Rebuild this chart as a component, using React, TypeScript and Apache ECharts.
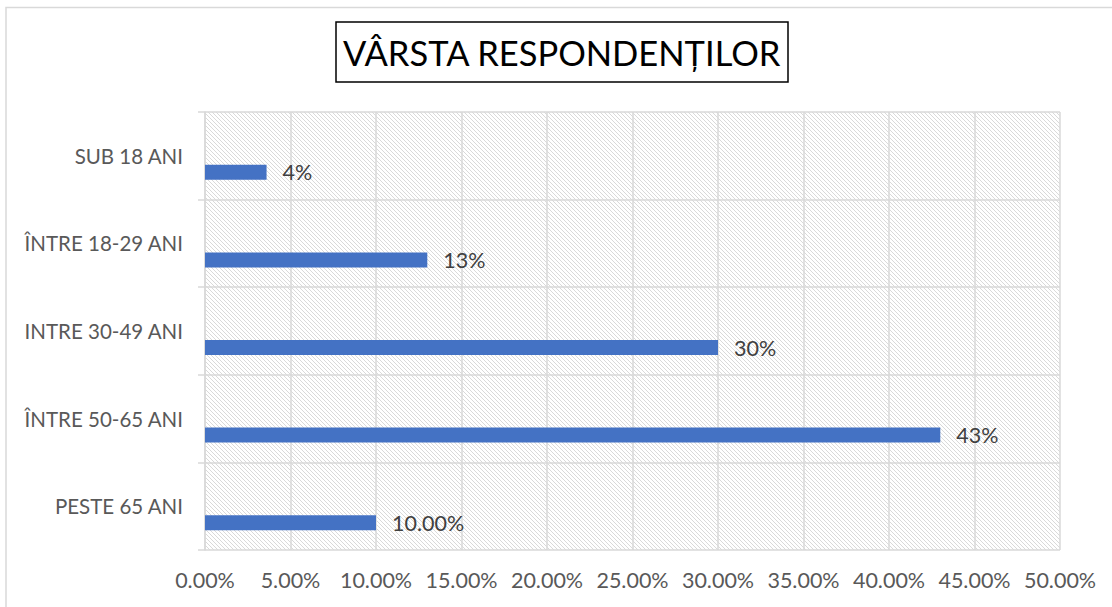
import React, { useEffect, useRef } from "react";
import * as echarts from "echarts";

const categories = ["SUB 18 ANI", "ÎNTRE 18-29 ANI", "INTRE 30-49 ANI", "ÎNTRE 50-65 ANI", "PESTE 65 ANI"];
const values = [3.6, 13, 30, 43, 10];
const valueLabels = ["4%", "13%", "30%", "43%", "10.00%"];
const axisMin = 0;
const axisMax = 50;
const axisInterval = 5;
const titleText = "VÂRSTA RESPONDENȚILOR";

const GRID = { left: 205, top: 112, width: 855, height: 438 };

function makeHatch(): HTMLCanvasElement {
  const c = document.createElement("canvas");
  c.width = 8;
  c.height = 8;
  const ctx = c.getContext("2d")!;
  ctx.fillStyle = "#ffffff";
  ctx.fillRect(0, 0, 8, 8);
  ctx.fillStyle = "#d9d9d9";
  for (let i = 0; i < 8; i++) {
    ctx.fillRect(i, i, 1, 1);
    ctx.fillRect(i, (i + 4) % 8, 1, 1);
  }
  return c;
}

export default function App() {
  const ref = useRef<HTMLDivElement>(null);
  useEffect(() => {
    if (!ref.current) return;
    const chart = echarts.init(ref.current, undefined, { renderer: "svg" });
    const hatch = makeHatch();
    const font = "Lato";
    const empty = categories.map(() => "-");
    chart.setOption({
      animation: false,
      backgroundColor: "#ffffff",
      title: {
        text: titleText,
        left: 336,
        top: 22,
        padding: [6, 7, 6, 7],
        borderColor: "#000000",
        borderWidth: 1.5,
        textStyle: { fontFamily: font, fontSize: 34.5, fontWeight: "normal", color: "#000000", lineHeight: 48 },
      },
      graphic: [
        {
          type: "rect",
          z: -10,
          silent: true,
          shape: { x: 6, y: 7.5, width: 1200, height: 700 },
          style: { fill: "none", stroke: "#d9d9d9", lineWidth: 1.5 },
        },
        {
          type: "rect",
          z: -5,
          silent: true,
          shape: { x: GRID.left, y: GRID.top, width: GRID.width, height: GRID.height },
          style: { fill: { image: hatch, repeat: "repeat" } as any },
        },
      ],
      grid: { left: GRID.left, top: GRID.top, width: GRID.width, height: GRID.height, containLabel: false },
      xAxis: {
        type: "value",
        min: axisMin,
        max: axisMax,
        interval: axisInterval,
        axisLine: { show: false },
        axisTick: { show: false },
        splitLine: { show: true, lineStyle: { color: "#d9d9d9", width: 1.5 } },
        axisLabel: {
          formatter: (v: number) => v.toFixed(2) + "%",
          fontFamily: font,
          fontSize: 21.5,
          color: "#595959",
          margin: 19,
        },
      },
      yAxis: {
        type: "category",
        inverse: true,
        data: categories,
        axisLine: { show: true, lineStyle: { color: "#d9d9d9", width: 1.5 } },
        axisTick: { show: true, length: 7, lineStyle: { color: "#d9d9d9", width: 1.5 } },
        splitLine: { show: true, lineStyle: { color: "#d9d9d9", width: 1.5 } },
        axisLabel: { fontFamily: font, fontSize: 20.5, color: "#595959", margin: 22 },
      },
      series: [
        { type: "bar", data: empty, barWidth: 15, barGap: "10%", silent: true },
        { type: "bar", data: empty, barWidth: 15, barGap: "10%", silent: true },
        {
          type: "bar",
          data: values,
          barWidth: 15,
          barGap: "10%",
          itemStyle: { color: "#4472c4" },
          label: {
            show: true,
            position: "right",
            distance: 16,
            fontFamily: font,
            fontSize: 21.5,
            color: "#404040",
            formatter: (p: any) => valueLabels[p.dataIndex],
          },
        },
      ],
    });
    return () => chart.dispose();
  }, []);
  return (
    <div
      ref={ref}
      style={{ position: "fixed", left: 0, top: 0, width: 1112, height: 607 }}
    />
  );
}
